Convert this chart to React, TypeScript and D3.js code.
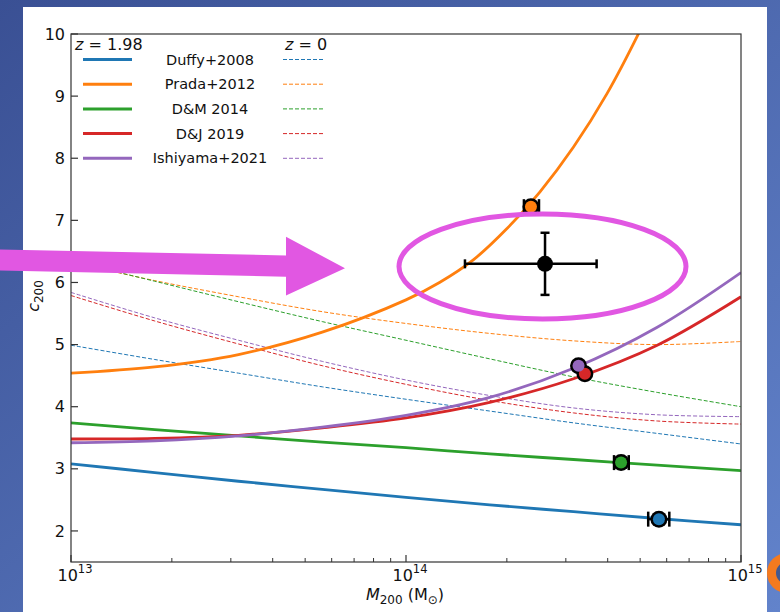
import React from "react";
import * as d3 from "d3";

// ---------- data ----------
const massGridLog = [13, 13.25, 13.5, 13.75, 14, 14.25, 14.5, 14.75, 15];

// z = 1.98 (solid)
const duffyZ2 = [3.08, 2.94, 2.8, 2.67, 2.54, 2.42, 2.31, 2.2, 2.1];
const dmZ2 = [3.74, 3.63, 3.53, 3.43, 3.34, 3.24, 3.15, 3.06, 2.97];
const djZ2 = [3.48, 3.49, 3.54, 3.66, 3.82, 4.07, 4.45, 4.99, 5.77];
const ishZ2 = [3.42, 3.45, 3.53, 3.67, 3.86, 4.15, 4.62, 5.28, 6.16];
const pradaMassLog = [13, 13.25, 13.5, 13.75, 14, 14.1, 14.2, 14.3, 14.4, 14.5, 14.6, 14.7, 14.75];
const pradaZ2 = [4.54, 4.64, 4.84, 5.2, 5.72, 6.0, 6.36, 6.86, 7.46, 8.18, 9.04, 10.07, 10.65];

// z = 0 (dashed)
const duffyZ0 = [4.99, 4.76, 4.54, 4.32, 4.12, 3.93, 3.74, 3.57, 3.4];
const pradaZ0 = [6.33, 6.03, 5.77, 5.53, 5.34, 5.18, 5.06, 5.0, 5.05];
const dmZ0 = [6.35, 6.02, 5.69, 5.37, 5.07, 4.77, 4.48, 4.23, 4.0];
const djZ0 = [5.79, 5.38, 5.01, 4.66, 4.36, 4.1, 3.9, 3.77, 3.72];
const ishZ0 = [5.84, 5.43, 5.07, 4.73, 4.43, 4.18, 3.98, 3.87, 3.84];

const modelNames = ["Duffy+2008", "Prada+2012", "D&M 2014", "D&J 2019", "Ishiyama+2021"];
const modelColors = ["#1f77b4", "#ff7f0e", "#2ca02c", "#d62728", "#9467bd"];

// model predictions (markers) at z = 1.98
const predMassLog = [14.755, 14.373, 14.642, 14.534, 14.515];
const predC = [2.19, 7.22, 3.1, 4.53, 4.66];
const predMassLoLog = [14.723, 14.352, 14.621, 14.534, 14.515];
const predMassHiLog = [14.786, 14.397, 14.665, 14.534, 14.515];

// observed cluster
const obsMassLog = 14.415;
const obsMassLoLog = 14.176;
const obsMassHiLog = 14.569;
const obsC = 6.3;
const obsCLo = 5.8;
const obsCHi = 6.8;

const yTicks = [2, 3, 4, 5, 6, 7, 8, 9, 10];
const xMajor = [13, 14, 15];

export default function App() {
  const W = 780, H = 612;
  const left = 71, right = 741, top = 34, bottom = 562;
  const x = d3.scaleLog().domain([1e13, 1e15]).range([left, right]);
  const y = d3.scaleLinear().domain([1.5, 10]).range([bottom, top]);
  const xl = (lg: number) => x(Math.pow(10, lg));

  const line = d3
    .line<[number, number]>()
    .x((d) => xl(d[0]))
    .y((d) => y(d[1]))
    .curve(d3.curveCatmullRom);

  const solid = [duffyZ2, null, dmZ2, djZ2, ishZ2];
  const dashed = [duffyZ0, pradaZ0, dmZ0, djZ0, ishZ0];

  const solidPath = (i: number) => {
    if (i === 1) return line(pradaMassLog.map((m, k) => [m, pradaZ2[k]]));
    return line(massGridLog.map((m, k) => [m, (solid[i] as number[])[k]]));
  };
  const dashedPath = (i: number) => line(massGridLog.map((m, k) => [m, dashed[i][k]]));

  const minorTicks: number[] = [];
  [1e13, 1e14].forEach((b) => {
    for (let k = 2; k <= 9; k++) minorTicks.push(b * k);
  });

  const font = "DejaVu Sans, Liberation Sans, sans-serif";
  const magenta = "#e157e2";

  const legRowY = (i: number) => 59.5 + i * 24.7;

  return (
    <svg
      width={W}
      height={H}
      style={{ position: "fixed", left: 0, top: 0 }}
      fontFamily={font}
    >
      <defs>
        <linearGradient id="bg" x1="0" y1="0" x2="1" y2="1">
          <stop offset="0" stopColor="#3a5094" />
          <stop offset="1" stopColor="#6283cb" />
        </linearGradient>
        <clipPath id="plotClip">
          <rect x={left} y={top} width={right - left} height={bottom - top} />
        </clipPath>
      </defs>
      <rect x={0} y={0} width={W} height={H} fill="url(#bg)" />
      <rect x={23} y={7} width={744} height={H - 7} fill="#ffffff" />

      {/* curves */}
      <g clipPath="url(#plotClip)" fill="none">
        {modelColors.map((c, i) => (
          <path key={"d" + i} d={dashedPath(i) || ""} stroke={c} strokeWidth={1} strokeDasharray="4,2" />
        ))}
        {[0, 1, 2, 3, 4].map((i) => (
          <path key={"s" + i} d={solidPath(i) || ""} stroke={modelColors[i]} strokeWidth={2.8} />
        ))}
      </g>

      {/* prediction markers */}
      <g>
        {predMassLog.map((m, i) =>
          predMassLoLog[i] !== predMassHiLog[i] ? (
            <g key={"eb" + i} stroke="#000" strokeWidth={2.5}>
              <line x1={xl(predMassLoLog[i])} x2={xl(predMassHiLog[i])} y1={y(predC[i])} y2={y(predC[i])} />
              <line x1={xl(predMassLoLog[i])} x2={xl(predMassLoLog[i])} y1={y(predC[i]) - 7.5} y2={y(predC[i]) + 7.5} />
              <line x1={xl(predMassHiLog[i])} x2={xl(predMassHiLog[i])} y1={y(predC[i]) - 7.5} y2={y(predC[i]) + 7.5} />
            </g>
          ) : null
        )}
        {predMassLog.map((m, i) => (
          <circle key={"o" + i} cx={xl(m)} cy={y(predC[i])} r={8.5} fill="#000" />
        ))}
        {predMassLog.map((m, i) => (
          <circle key={"f" + i} cx={xl(m)} cy={y(predC[i])} r={6} fill={modelColors[i]} />
        ))}
      </g>

      {/* observed point */}
      <g stroke="#000" strokeWidth={2.5}>
        <line x1={xl(obsMassLoLog)} x2={xl(obsMassHiLog)} y1={y(obsC)} y2={y(obsC)} />
        <line x1={xl(obsMassLoLog)} x2={xl(obsMassLoLog)} y1={y(obsC) - 4.5} y2={y(obsC) + 4.5} />
        <line x1={xl(obsMassHiLog)} x2={xl(obsMassHiLog)} y1={y(obsC) - 4.5} y2={y(obsC) + 4.5} />
        <line x1={xl(obsMassLog)} x2={xl(obsMassLog)} y1={y(obsCLo)} y2={y(obsCHi)} />
        <line x1={xl(obsMassLog) - 4.5} x2={xl(obsMassLog) + 4.5} y1={y(obsCLo)} y2={y(obsCLo)} />
        <line x1={xl(obsMassLog) - 4.5} x2={xl(obsMassLog) + 4.5} y1={y(obsCHi)} y2={y(obsCHi)} />
      </g>
      <circle cx={xl(obsMassLog)} cy={y(obsC)} r={8} fill="#000" />

      {/* axes frame */}
      <rect x={left} y={top} width={right - left} height={bottom - top} fill="none" stroke="#333" strokeWidth={1.2} />

      {/* y ticks */}
      {yTicks.map((t) => (
        <g key={"yt" + t}>
          <line x1={left} x2={left + 7} y1={y(t)} y2={y(t)} stroke="#333" strokeWidth={1.2} />
          <text x={left - 6} y={y(t)} dy="0.35em" textAnchor="end" fontSize={16} fill="#111">
            {t}
          </text>
        </g>
      ))}

      {/* x ticks */}
      {minorTicks.map((t) => (
        <line key={"mx" + t} x1={x(t)} x2={x(t)} y1={bottom} y2={bottom - 4} stroke="#333" strokeWidth={1} />
      ))}
      {xMajor.map((e) => (
        <g key={"xt" + e}>
          <line x1={xl(e)} x2={xl(e)} y1={bottom} y2={bottom - 7} stroke="#333" strokeWidth={1.2} />
          <text x={xl(e) + 4} y={581} textAnchor="middle" fontSize={16} fill="#111">
            10
            <tspan dy={-8} fontSize={11.5}>{e}</tspan>
          </text>
        </g>
      ))}

      {/* axis labels */}
      <text x={405} y={600} textAnchor="middle" fontSize={16} fill="#111">
        <tspan fontStyle="italic">M</tspan>
        <tspan fontSize={12} dy={4}>200</tspan>
        <tspan dy={-4}> (M</tspan>
        <tspan fontSize={12} dy={4}>⊙</tspan>
        <tspan dy={-4}>)</tspan>
      </text>
      <text transform="translate(39,296) rotate(-90)" textAnchor="middle" fontSize={16} fill="#111">
        <tspan fontStyle="italic">c</tspan>
        <tspan fontSize={12} dy={4}>200</tspan>
      </text>

      {/* legend */}
      <text x={75} y={50} fontSize={16} fill="#111">
        <tspan fontStyle="italic">z</tspan>
        <tspan> = 1.98</tspan>
      </text>
      <text x={285} y={50} fontSize={16} fill="#111">
        <tspan fontStyle="italic">z</tspan>
        <tspan> = 0</tspan>
      </text>
      {modelNames.map((n, i) => (
        <g key={"lg" + i}>
          <line x1={83} x2={132} y1={legRowY(i)} y2={legRowY(i)} stroke={modelColors[i]} strokeWidth={3} />
          <text x={210} y={legRowY(i)} dy="0.35em" textAnchor="middle" fontSize={14.5} fill="#111">
            {n}
          </text>
          <line x1={283} x2={325} y1={legRowY(i)} y2={legRowY(i)} stroke={modelColors[i]} strokeWidth={1} strokeDasharray="4,2" />
        </g>
      ))}

      {/* annotations: arrow and ellipse */}
      <polygon
        points="0,249.5 286,255.5 286,236.7 345,268.3 286,295.5 286,276.7 0,270.5"
        fill={magenta}
      />
      <ellipse cx={542.5} cy={266.5} rx={143.5} ry={52.5} fill="none" stroke={magenta} strokeWidth={5} />

      {/* slide decoration */}
      <circle cx={787} cy={573} r={15.5} fill="#44598f" stroke="#f47a1f" strokeWidth={9} />
    </svg>
  );
}
